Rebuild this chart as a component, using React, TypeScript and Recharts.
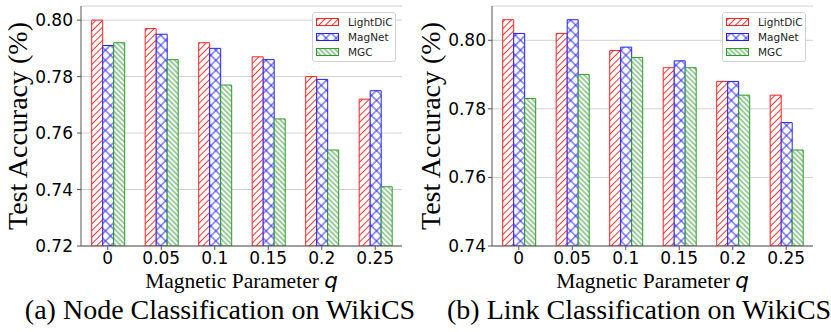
import React from 'react';
import { BarChart, Bar, XAxis, YAxis, CartesianGrid, Legend } from 'recharts';

const qValues = ['0', '0.05', '0.1', '0.15', '0.2', '0.25'];
const seriesNames = ['LightDiC', 'MagNet', 'MGC'];

const nodeLightDiC = [0.8, 0.797, 0.792, 0.787, 0.78, 0.772];
const nodeMagNet = [0.791, 0.795, 0.79, 0.786, 0.779, 0.775];
const nodeMGC = [0.792, 0.786, 0.777, 0.765, 0.754, 0.741];

const linkLightDiC = [0.806, 0.802, 0.797, 0.792, 0.788, 0.784];
const linkMagNet = [0.802, 0.806, 0.798, 0.794, 0.788, 0.776];
const linkMGC = [0.783, 0.79, 0.795, 0.792, 0.784, 0.768];

const nodeTicks = [0.72, 0.74, 0.76, 0.78, 0.8];
const linkTicks = [0.74, 0.76, 0.78, 0.8];

const nodeTitle = '(a) Node Classification on WikiCS';
const linkTitle = '(b) Link Classification on WikiCS';

const COLORS = ['#ff2020', '#2020ff', '#2a9a2a'];
const SPINE = '#555';

const buildData = (a: number[], b: number[], c: number[]) =>
  qValues.map((q, i) => ({ q, LightDiC: a[i], MagNet: b[i], MGC: c[i] }));

const nodeData = buildData(nodeLightDiC, nodeMagNet, nodeMGC);
const linkData = buildData(linkLightDiC, linkMagNet, linkMGC);

const Patterns = ({ prefix }: { prefix: string }) => (
  <defs>
    <pattern id={`${prefix}-red`} patternUnits="userSpaceOnUse" width={4.7} height={4.7} patternTransform="rotate(45)">
      <rect x={0} y={0} width={4.7} height={4.7} fill="#fff" />
      <line x1={2.35} y1={-1} x2={2.35} y2={6} stroke={COLORS[0]} strokeWidth={0.9} />
    </pattern>
    <pattern id={`${prefix}-blue`} patternUnits="userSpaceOnUse" width={7.1} height={7.1} patternTransform="rotate(45)">
      <rect x={0} y={0} width={7.1} height={7.1} fill="#fff" />
      <line x1={3.55} y1={-1} x2={3.55} y2={8.1} stroke={COLORS[1]} strokeWidth={0.9} />
      <line x1={-1} y1={3.55} x2={8.1} y2={3.55} stroke={COLORS[1]} strokeWidth={0.9} />
    </pattern>
    <pattern id={`${prefix}-green`} patternUnits="userSpaceOnUse" width={3.6} height={3.6} patternTransform="rotate(-45)">
      <rect x={0} y={0} width={3.6} height={3.6} fill="#fff" />
      <line x1={1.8} y1={-1} x2={1.8} y2={4.6} stroke={COLORS[2]} strokeWidth={0.9} />
    </pattern>
  </defs>
);

const patternIds = (prefix: string) => [`${prefix}-red`, `${prefix}-blue`, `${prefix}-green`];

const YLabel = (props: any) => {
  const { viewBox, offsetX } = props;
  const x = viewBox.x + offsetX;
  const y = viewBox.y + viewBox.height / 2;
  return (
    <text
      x={x}
      y={y}
      transform={`rotate(-90 ${x} ${y})`}
      textAnchor="middle"
      fontFamily="Liberation Serif"
      fontSize={28}
      fill="#000"
    >
      Test Accuracy (%)
    </text>
  );
};

const XLabel = (props: any) => {
  const { viewBox, caption, captionShift } = props;
  const cx = viewBox.x + viewBox.width / 2;
  return (
    <g>
      <text x={cx} y={viewBox.y + 42} textAnchor="middle" fontFamily="Liberation Serif" fontSize={21.5} fill="#000">
        Magnetic Parameter{' '}
        <tspan fontFamily="DejaVu Sans" fontStyle="italic">q</tspan>
      </text>
      <text x={cx + captionShift} y={viewBox.y + 73.3} textAnchor="middle" fontFamily="Liberation Serif" fontSize={28} fill="#000">
        {caption}
      </text>
    </g>
  );
};

const makeLegend = (prefix: string) => () => {
  const ids = patternIds(prefix);
  return (
    <div
      style={{
        boxSizing: 'border-box',
        width: 84,
        height: 50,
        border: '1px solid #cfcfcf',
        borderRadius: 3,
        background: 'rgba(255,255,255,0.85)',
        paddingTop: 2,
      }}
    >
      {seriesNames.map((name, i) => (
        <div key={name} style={{ display: 'flex', alignItems: 'center', height: 14.7 }}>
          <svg width={23} height={8} style={{ marginLeft: 3, marginRight: 9 }}>
            <rect x={0.5} y={0.5} width={22} height={7} fill={`url(#${ids[i]})`} stroke={COLORS[i]} strokeWidth={1} />
          </svg>
          <span style={{ fontFamily: 'DejaVu Sans', fontSize: 10.5, color: '#222', lineHeight: '12px' }}>{name}</span>
        </div>
      ))}
    </div>
  );
};

type PanelProps = {
  data: any[];
  prefix: string;
  width: number;
  yWidth: number;
  rightMargin: number;
  domain: [number, number];
  ticks: number[];
  tickMargin: number;
  yLabelX: number;
  caption: string;
  captionShift: number;
  legendLeft: number;
};

const Panel = (p: PanelProps) => {
  const ids = patternIds(p.prefix);
  return (
    <BarChart
      width={p.width}
      height={332}
      data={p.data}
      margin={{ top: 6, right: p.rightMargin, bottom: 0, left: 0 }}
      barCategoryGap="20%"
      barGap={0}
    >
      <Patterns prefix={p.prefix} />
      <CartesianGrid vertical={false} stroke="#d0d0d0" strokeWidth={1} />
      <XAxis
        dataKey="q"
        height={86}
        tickSize={4}
        tickMargin={2}
        tick={{ fontSize: 17, fill: '#000', fontFamily: 'DejaVu Sans' }}
        axisLine={{ stroke: SPINE }}
        tickLine={{ stroke: SPINE }}
        label={<XLabel caption={p.caption} captionShift={p.captionShift} />}
      />
      <XAxis xAxisId="top" dataKey="q" orientation="top" height={0} tick={false} tickLine={false} axisLine={{ stroke: SPINE }} />
      <YAxis
        width={p.yWidth}
        domain={p.domain}
        ticks={p.ticks}
        allowDataOverflow
        tickFormatter={(v: number) => v.toFixed(2)}
        tickSize={4}
        tickMargin={p.tickMargin}
        tick={{ fontSize: 17, fill: '#000', fontFamily: 'DejaVu Sans' }}
        axisLine={{ stroke: SPINE }}
        tickLine={{ stroke: SPINE }}
        label={<YLabel offsetX={p.yLabelX} />}
      />
      <YAxis yAxisId="right" orientation="right" width={0} domain={p.domain} allowDataOverflow tick={false} tickLine={false} axisLine={{ stroke: SPINE }} />
      <Legend
        layout="horizontal"
        verticalAlign="middle"
        align="center"
        wrapperStyle={{ left: p.legendLeft, top: 12, width: 84, height: 50 }}
        content={makeLegend(p.prefix)}
      />
      {seriesNames.map((name, i) => (
        <Bar
          key={name}
          dataKey={name}
          fill={`url(#${ids[i]})`}
          stroke={COLORS[i]}
          strokeWidth={1}
          isAnimationActive={false}
        />
      ))}
    </BarChart>
  );
};

export default function App() {
  return (
    <div style={{ position: 'absolute', left: 0, top: 0, width: 831, height: 332, background: '#fff' }}>
      <div style={{ position: 'absolute', left: 0, top: 0 }}>
        <Panel
          data={nodeData}
          prefix="node"
          width={415}
          yWidth={81}
          rightMargin={13}
          domain={[0.72, 0.805]}
          ticks={nodeTicks}
          tickMargin={4}
          yLabelX={26.7}
          caption={nodeTitle}
          captionShift={-21.5}
          legendLeft={312}
        />
      </div>
      <div style={{ position: 'absolute', left: 415, top: 0 }}>
        <Panel
          data={linkData}
          prefix="link"
          width={416}
          yWidth={77}
          rightMargin={18}
          domain={[0.74, 0.81]}
          ticks={linkTicks}
          tickMargin={2}
          yLabelX={25}
          caption={linkTitle}
          captionShift={-13.4}
          legendLeft={307}
        />
      </div>
    </div>
  );
}
